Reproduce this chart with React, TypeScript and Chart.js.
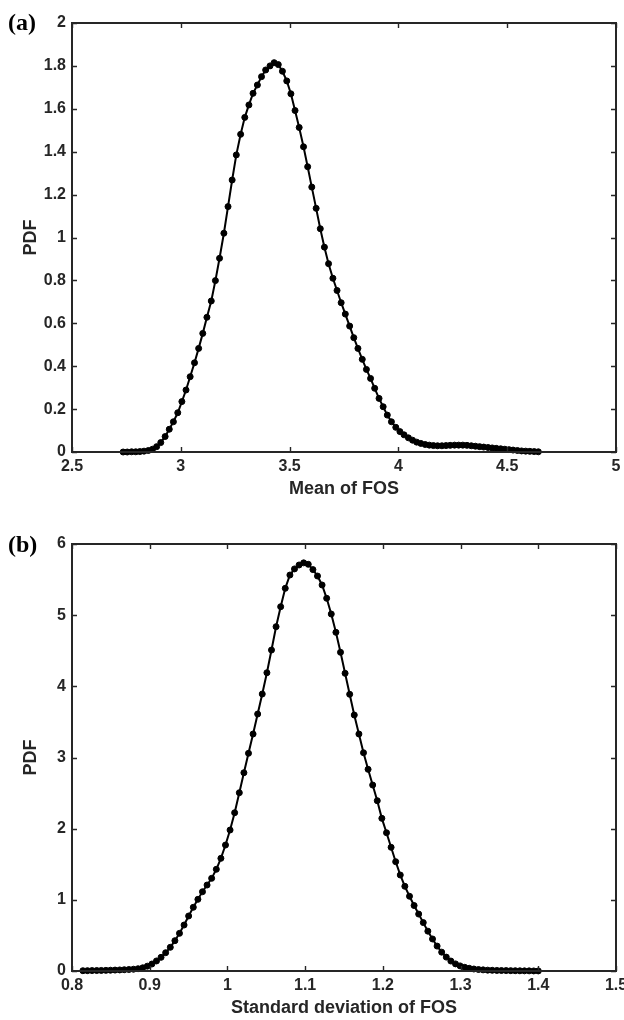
import React, { useEffect, useRef } from "react";
import { Chart, registerables } from "chart.js";

Chart.register(...registerables);

// ---------- Panel (a): Mean of FOS ----------
const meanFos = [
  2.735, 2.754, 2.774, 2.793, 2.812, 2.831, 2.851, 2.870, 2.889, 2.908,
  2.928, 2.947, 2.966, 2.986, 3.005, 3.024, 3.043, 3.063, 3.082, 3.101,
  3.120, 3.140, 3.159, 3.178, 3.198, 3.217, 3.236, 3.255, 3.275, 3.294,
  3.313, 3.332, 3.352, 3.371, 3.390, 3.410, 3.429, 3.448, 3.467, 3.487,
  3.506, 3.525, 3.544, 3.564, 3.583, 3.602, 3.622, 3.641, 3.660, 3.679,
  3.699, 3.718, 3.737, 3.756, 3.776, 3.795, 3.814, 3.834, 3.853, 3.872,
  3.891, 3.911, 3.930, 3.949, 3.968, 3.988, 4.007, 4.026, 4.046, 4.065,
  4.084, 4.103, 4.123, 4.142, 4.161, 4.180, 4.200, 4.219, 4.238, 4.258,
  4.277, 4.296, 4.315, 4.335, 4.354, 4.373, 4.392, 4.412, 4.431, 4.450,
  4.470, 4.489, 4.508, 4.527, 4.547, 4.566, 4.585, 4.604, 4.624, 4.643,
];
const meanFosPdf = [
  0.000, 0.000, 0.001, 0.001, 0.002, 0.004, 0.007, 0.013, 0.025, 0.044,
  0.072, 0.106, 0.141, 0.183, 0.235, 0.289, 0.351, 0.416, 0.483, 0.553,
  0.628, 0.704, 0.799, 0.903, 1.020, 1.144, 1.268, 1.385, 1.481, 1.560,
  1.618, 1.672, 1.711, 1.750, 1.781, 1.800, 1.815, 1.806, 1.775, 1.730,
  1.670, 1.592, 1.513, 1.423, 1.330, 1.235, 1.136, 1.041, 0.955, 0.878,
  0.810, 0.753, 0.696, 0.643, 0.587, 0.533, 0.483, 0.432, 0.385, 0.343,
  0.297, 0.250, 0.211, 0.172, 0.141, 0.115, 0.095, 0.080, 0.066, 0.055,
  0.046, 0.040, 0.035, 0.032, 0.030, 0.029, 0.029, 0.030, 0.031, 0.032,
  0.032, 0.032, 0.031, 0.029, 0.027, 0.025, 0.023, 0.021, 0.019, 0.017,
  0.015, 0.013, 0.011, 0.009, 0.007, 0.005, 0.004, 0.003, 0.002, 0.001,
];
const meanXTicks = [2.5, 3, 3.5, 4, 4.5, 5];
const meanYTicks = [0, 0.2, 0.4, 0.6, 0.8, 1, 1.2, 1.4, 1.6, 1.8, 2];

// ---------- Panel (b): Standard deviation of FOS ----------
const sdFos = [
  0.8140, 0.8199, 0.8258, 0.8318, 0.8377, 0.8436, 0.8495, 0.8554, 0.8614, 0.8673,
  0.8732, 0.8791, 0.8850, 0.8910, 0.8969, 0.9028, 0.9087, 0.9146, 0.9205, 0.9265,
  0.9324, 0.9383, 0.9442, 0.9501, 0.9561, 0.9620, 0.9679, 0.9738, 0.9797, 0.9857,
  0.9916, 0.9975, 1.0034, 1.0093, 1.0153, 1.0212, 1.0271, 1.0330, 1.0389, 1.0448,
  1.0508, 1.0567, 1.0626, 1.0685, 1.0744, 1.0804, 1.0863, 1.0922, 1.0981, 1.1040,
  1.1100, 1.1159, 1.1218, 1.1277, 1.1336, 1.1396, 1.1455, 1.1514, 1.1573, 1.1632,
  1.1692, 1.1751, 1.1810, 1.1869, 1.1928, 1.1987, 1.2047, 1.2106, 1.2165, 1.2224,
  1.2283, 1.2343, 1.2402, 1.2461, 1.2520, 1.2579, 1.2639, 1.2698, 1.2757, 1.2816,
  1.2875, 1.2935, 1.2994, 1.3053, 1.3112, 1.3171, 1.3231, 1.3290, 1.3349, 1.3408,
  1.3467, 1.3526, 1.3586, 1.3645, 1.3704, 1.3763, 1.3822, 1.3882, 1.3941, 1.4000,
];
const sdFosPdf = [
  0.004, 0.005, 0.006, 0.007, 0.008, 0.009, 0.011, 0.013, 0.015, 0.018,
  0.021, 0.025, 0.032, 0.045, 0.068, 0.098, 0.141, 0.192, 0.257, 0.333,
  0.426, 0.529, 0.646, 0.773, 0.895, 1.007, 1.114, 1.208, 1.302, 1.429,
  1.583, 1.770, 1.981, 2.224, 2.505, 2.786, 3.059, 3.330, 3.611, 3.892,
  4.191, 4.510, 4.838, 5.119, 5.377, 5.564, 5.650, 5.705, 5.735, 5.715,
  5.640, 5.550, 5.424, 5.237, 5.016, 4.759, 4.478, 4.183, 3.888, 3.597,
  3.330, 3.067, 2.834, 2.613, 2.393, 2.145, 1.943, 1.738, 1.536, 1.349,
  1.190, 1.050, 0.920, 0.800, 0.680, 0.560, 0.450, 0.350, 0.265, 0.195,
  0.140, 0.100, 0.072, 0.052, 0.038, 0.028, 0.021, 0.016, 0.012, 0.010,
  0.008, 0.007, 0.006, 0.005, 0.004, 0.003, 0.002, 0.002, 0.001, 0.001,
];
const sdXTicks = [0.8, 0.9, 1, 1.1, 1.2, 1.3, 1.4, 1.5];
const sdYTicks = [0, 1, 2, 3, 4, 5, 6];

const AXIS_COLOR = "#262626";
const SANS = '"Liberation Sans", Arial, Helvetica, sans-serif';

const fmt = (v: number) => String(Number(Number(v).toFixed(3)));

const framePlugin = {
  id: "frame",
  afterDraw(chart: any, _args: any, opts: any) {
    const { ctx, chartArea } = chart;
    const { left, right, top, bottom } = chartArea;
    const xs = chart.scales.x;
    const ys = chart.scales.y;
    ctx.save();
    ctx.strokeStyle = AXIS_COLOR;
    ctx.lineWidth = 1.4;
    const tl = 5;
    ctx.beginPath();
    xs.ticks.forEach((t: any) => {
      const px = Math.round(xs.getPixelForValue(t.value)) + 0.5;
      ctx.moveTo(px, bottom);
      ctx.lineTo(px, bottom - tl);
      ctx.moveTo(px, top);
      ctx.lineTo(px, top + tl);
    });
    ys.ticks.forEach((t: any) => {
      const py = Math.round(ys.getPixelForValue(t.value)) + 0.5;
      ctx.moveTo(left, py);
      ctx.lineTo(left + tl, py);
      ctx.moveTo(right, py);
      ctx.lineTo(right - tl, py);
    });
    ctx.stroke();
    ctx.lineWidth = 2;
    ctx.strokeRect(left, top, right - left, bottom - top);
    ctx.fillStyle = "#000";
    ctx.font = 'bold 24px "Liberation Serif", "Times New Roman", serif';
    ctx.textBaseline = "alphabetic";
    ctx.textAlign = "left";
    ctx.fillText(opts.label, 8, opts.labelY);
    ctx.restore();
  },
};

type PanelProps = {
  label: string;
  labelY: number;
  xs: number[];
  ys: number[];
  xTicks: number[];
  yTicks: number[];
  xTitle: string;
  top: number;
  padTop: number;
  xAxisH: number;
  xTitlePadBottom: number;
};

function Panel(p: PanelProps) {
  const ref = useRef<HTMLCanvasElement>(null);
  useEffect(() => {
    const tickFont = { family: SANS, size: 16, weight: "bold" as const };
    const titleFont = { family: SANS, size: 18, weight: "bold" as const };
    const chart = new Chart(ref.current as HTMLCanvasElement, {
      type: "line",
      data: {
        datasets: [
          {
            data: p.xs.map((x, i) => ({ x, y: p.ys[i] })),
            borderColor: "#000",
            backgroundColor: "#000",
            borderWidth: 2,
            pointRadius: 3,
            pointBorderWidth: 1,
            pointBackgroundColor: "#000",
            pointBorderColor: "#000",
            tension: 0,
            clip: false as any,
          },
        ],
      },
      options: {
        responsive: false,
        animation: false,
        devicePixelRatio: 1,
        events: [],
        layout: { padding: { top: p.padTop, right: 8, left: 0, bottom: 0 } },
        plugins: {
          legend: { display: false },
          tooltip: { enabled: false },
          frame: { label: p.label, labelY: p.labelY },
        } as any,
        scales: {
          x: {
            type: "linear",
            min: p.xTicks[0],
            max: p.xTicks[p.xTicks.length - 1],
            grid: { display: false, drawTicks: false },
            border: { display: false },
            afterBuildTicks: (s: any) => {
              s.ticks = p.xTicks.map((v) => ({ value: v }));
            },
            afterFit: (s: any) => {
              s.height = p.xAxisH;
              s.paddingLeft = 0;
              s.paddingRight = 0;
            },
            ticks: {
              autoSkip: false,
              maxRotation: 0,
              minRotation: 0,
              padding: 5,
              color: AXIS_COLOR,
              font: tickFont,
              callback: (v: any) => fmt(v),
            },
            title: {
              display: true,
              text: p.xTitle,
              color: AXIS_COLOR,
              font: titleFont,
              padding: { top: 0, bottom: p.xTitlePadBottom },
            },
          },
          y: {
            type: "linear",
            min: p.yTicks[0],
            max: p.yTicks[p.yTicks.length - 1],
            grid: { display: false, drawTicks: false },
            border: { display: false },
            afterBuildTicks: (s: any) => {
              s.ticks = p.yTicks.map((v) => ({ value: v }));
            },
            afterFit: (s: any) => {
              s.width = 72;
              s.paddingTop = 0;
              s.paddingBottom = 0;
            },
            ticks: {
              autoSkip: false,
              padding: 6,
              color: AXIS_COLOR,
              font: tickFont,
              callback: (v: any) => fmt(v),
            },
            title: {
              display: true,
              text: "PDF",
              color: AXIS_COLOR,
              font: titleFont,
              padding: { top: 20, bottom: 0 },
            },
          },
        },
      } as any,
      plugins: [framePlugin as any],
    });
    return () => chart.destroy();
  }, []);
  return (
    <canvas
      ref={ref}
      width={624}
      height={510}
      style={{ position: "absolute", left: 0, top: p.top, width: 624, height: 510 }}
    />
  );
}

export default function App() {
  return (
    <div style={{ position: "absolute", left: 0, top: 0, width: 624, height: 1020, background: "#fff" }}>
      <Panel
        label="(a)"
        labelY={30}
        xs={meanFos}
        ys={meanFosPdf}
        xTicks={meanXTicks}
        yTicks={meanYTicks}
        xTitle="Mean of FOS"
        top={0}
        padTop={23}
        xAxisH={58}
        xTitlePadBottom={10}
      />
      <Panel
        label="(b)"
        labelY={41.5}
        xs={sdFos}
        ys={sdFosPdf}
        xTicks={sdXTicks}
        yTicks={sdYTicks}
        xTitle="Standard deviation of FOS"
        top={510}
        padTop={34}
        xAxisH={49}
        xTitlePadBottom={1}
      />
    </div>
  );
}
